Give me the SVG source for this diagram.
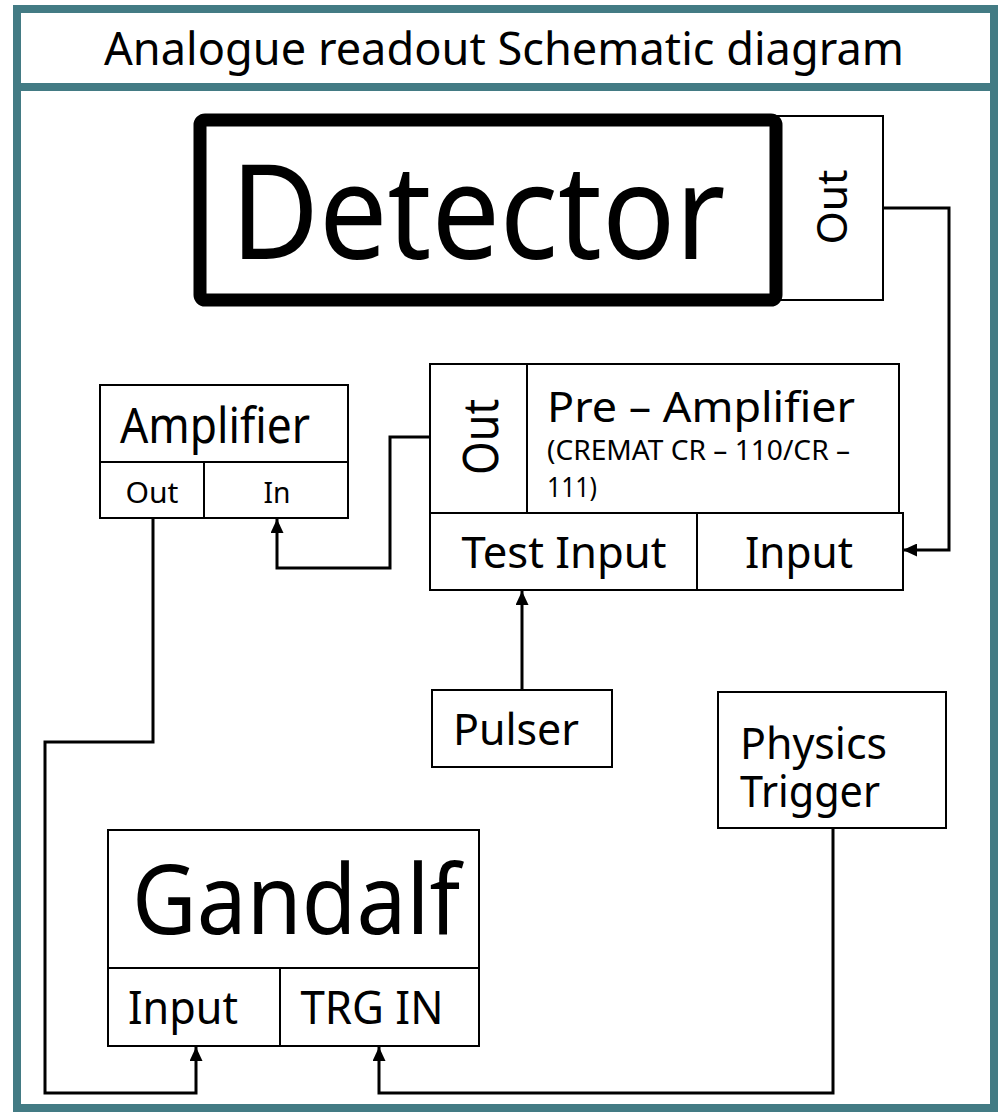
<svg xmlns="http://www.w3.org/2000/svg" width="998" height="1114" viewBox="0 0 998 1114">
<defs>
<style>
.box{fill:#fff;stroke:#000;stroke-width:2}
.frame{fill:#fff;stroke:#437B84;stroke-width:8}
.t{font-family:"Noto Sans","Open Sans",sans-serif;fill:#000}
.c{fill:none;stroke:#000;stroke-width:3}
</style>
<marker id="ah" viewBox="0 0 14 13" refX="14" refY="6.5" markerWidth="14" markerHeight="13" orient="auto" markerUnits="userSpaceOnUse">
<path d="M0,0 L14,6.5 L0,13 z" fill="#000"/>
</marker>
</defs>
<g id="frame">
<rect class="frame" x="17" y="9" width="977" height="1099"/>
<line x1="17" y1="87" x2="994" y2="87" stroke="#437B84" stroke-width="8"/>
<text class="t" x="504" y="65" font-size="45" text-anchor="middle" textLength="800" lengthAdjust="spacingAndGlyphs">Analogue readout Schematic diagram</text>
</g>
<g id="detector">
<rect x="776" y="116" width="107" height="184" class="box"/>
<text class="t" transform="translate(847,207) rotate(-90)" font-size="42" text-anchor="middle" textLength="75" lengthAdjust="spacingAndGlyphs">Out</text>
<rect x="200" y="120" width="576" height="180" rx="5" fill="#fff" stroke="#000" stroke-width="13"/>
<text class="t" x="478" y="259" font-size="132" text-anchor="middle" textLength="495" lengthAdjust="spacingAndGlyphs">Detector</text>
</g>
<g id="preamp">
<rect x="430" y="364" width="97" height="149" class="box"/>
<text class="t" transform="translate(498,437) rotate(-90)" font-size="50" text-anchor="middle" textLength="76" lengthAdjust="spacingAndGlyphs">Out</text>
<rect x="527" y="364" width="372" height="149" class="box"/>
<text class="t" x="547" y="422" font-size="42" textLength="308" lengthAdjust="spacingAndGlyphs">Pre – Amplifier</text>
<text class="t" x="547" y="460" font-size="28" textLength="303" lengthAdjust="spacingAndGlyphs">(CREMAT CR – 110/CR –</text>
<text class="t" x="547" y="497" font-size="28" textLength="50" lengthAdjust="spacingAndGlyphs">111)</text>
<rect x="430" y="513" width="267" height="77" class="box"/>
<text class="t" x="564" y="568" font-size="44" text-anchor="middle" textLength="205" lengthAdjust="spacingAndGlyphs">Test Input</text>
<rect x="697" y="513" width="206" height="77" class="box"/>
<text class="t" x="799" y="568" font-size="44" text-anchor="middle" textLength="108" lengthAdjust="spacingAndGlyphs">Input</text>
</g>
<g id="amplifier">
<rect x="100" y="385" width="248" height="77" class="box"/>
<text class="t" x="215" y="443" font-size="50" text-anchor="middle" textLength="190" lengthAdjust="spacingAndGlyphs">Amplifier</text>
<rect x="100" y="462" width="104" height="56" class="box"/>
<text class="t" x="152" y="503" font-size="29" text-anchor="middle" textLength="53" lengthAdjust="spacingAndGlyphs">Out</text>
<rect x="204" y="462" width="144" height="56" class="box"/>
<text class="t" x="277" y="503" font-size="29" text-anchor="middle" textLength="27" lengthAdjust="spacingAndGlyphs">In</text>
</g>
<g id="pulser">
<rect x="432" y="690" width="180" height="77" class="box"/>
<text class="t" x="516" y="745" font-size="43" text-anchor="middle" textLength="126" lengthAdjust="spacingAndGlyphs">Pulser</text>
</g>
<g id="trigger">
<rect x="718" y="692" width="228" height="136" class="box"/>
<text class="t" x="740" y="759" font-size="43" textLength="147" lengthAdjust="spacingAndGlyphs">Physics</text>
<text class="t" x="740" y="807" font-size="43" textLength="140" lengthAdjust="spacingAndGlyphs">Trigger</text>
</g>
<g id="gandalf">
<rect x="108" y="830" width="371" height="138" class="box"/>
<text class="t" x="296" y="934" font-size="96" text-anchor="middle" textLength="328" lengthAdjust="spacingAndGlyphs">Gandalf</text>
<rect x="108" y="968" width="172" height="78" class="box"/>
<text class="t" x="183" y="1024" font-size="45" text-anchor="middle" textLength="110" lengthAdjust="spacingAndGlyphs">Input</text>
<rect x="280" y="968" width="199" height="78" class="box"/>
<text class="t" x="372" y="1024" font-size="45" text-anchor="middle" textLength="143" lengthAdjust="spacingAndGlyphs">TRG IN</text>
</g>
<g id="connectors">
<polyline class="c" points="883,208 949,208 949,550 903,550" marker-end="url(#ah)"/>
<polyline class="c" points="430,437 390,437 390,568 277,568 277,519" marker-end="url(#ah)"/>
<polyline class="c" points="522,690 522,591" marker-end="url(#ah)"/>
<polyline class="c" points="153,518 153,742 45,742 45,1093 196,1093 196,1047" marker-end="url(#ah)"/>
<polyline class="c" points="833,828 833,1093 379,1093 379,1047" marker-end="url(#ah)"/>
</g>
</svg>
